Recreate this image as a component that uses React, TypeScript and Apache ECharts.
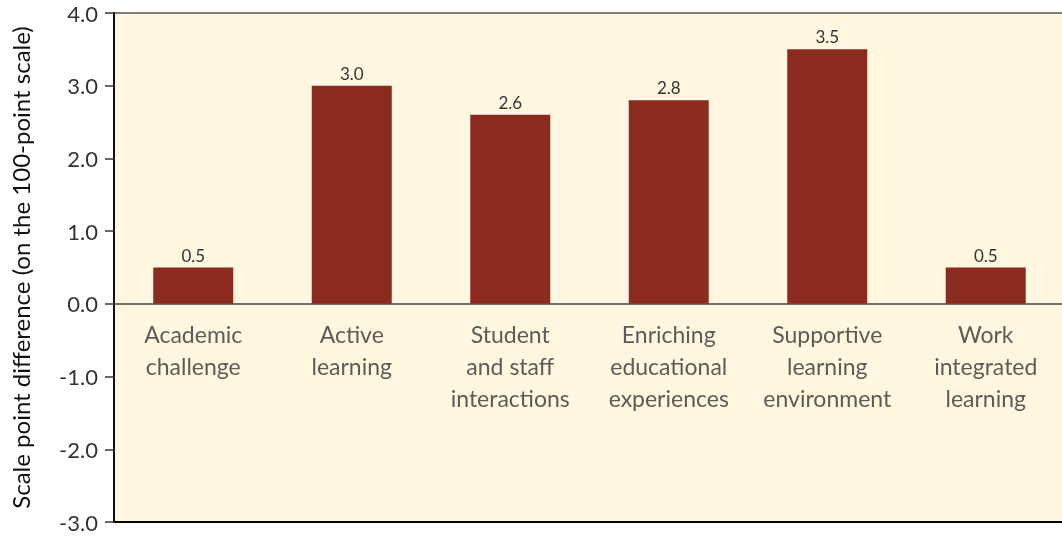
import React, { useEffect, useRef } from "react";
import * as echarts from "echarts";

const categories = [
  "Academic\nchallenge",
  "Active\nlearning",
  "Student\nand staff\ninteractions",
  "Enriching\neducational\nexperiences",
  "Supportive\nlearning\nenvironment",
  "Work\nintegrated\nlearning",
];
const values = [0.5, 3.0, 2.6, 2.8, 3.5, 0.5];
const yTicks = { min: -3, max: 4, interval: 1 };
const yTitle = "Scale point difference (on the 100-point scale)";

const FONT = "Lato, 'Open Sans', sans-serif";
const TXT = "#333333";

export default function App() {
  const ref = useRef<HTMLDivElement>(null);
  useEffect(() => {
    if (!ref.current) return;
    const chart = echarts.init(ref.current, undefined, { renderer: "svg" });
    chart.setOption({
      animation: false,
      textStyle: { fontFamily: FONT },
      grid: {
        left: 114,
        right: -3,
        top: 13,
        bottom: 18,
        containLabel: false,
        outerBoundsMode: "none",
        show: true,
        backgroundColor: "#FFF7E0",
        borderColor: "#555555",
        borderWidth: 1.5,
      },
      xAxis: {
        type: "category",
        data: categories,
        axisLine: { onZero: true, lineStyle: { color: "#444444", width: 1.5 } },
        axisTick: { show: false },
        axisLabel: { show: false },
      },
      yAxis: {
        type: "value",
        min: yTicks.min,
        max: yTicks.max,
        interval: yTicks.interval,
        name: yTitle,
        nameLocation: "middle",
        nameGap: 82,
        nameTextStyle: { color: "#111111", fontSize: 24, fontFamily: FONT },
        axisLine: { show: true, lineStyle: { color: "#111111", width: 2 } },
        axisTick: { show: true, length: 9, lineStyle: { color: "#333333", width: 1.5 } },
        splitLine: { show: false },
        axisLabel: {
          color: TXT,
          fontSize: 22,
          margin: 16,
          fontFamily: FONT,
          formatter: (v: number) => v.toFixed(1),
        },
      },
      series: [
        {
          type: "bar",
          data: values,
          barWidth: 80,
          itemStyle: { color: "#8B2A1E" },
          label: {
            show: true,
            position: "top",
            distance: 4,
            color: TXT,
            fontSize: 17,
            fontFamily: FONT,
            formatter: (p: any) => Number(p.value).toFixed(1),
          },
          markLine: {
            silent: true,
            symbol: "none",
            label: { show: false },
            lineStyle: { color: "#000000", width: 2, type: "solid" },
            data: [{ yAxis: yTicks.min }],
          },
        },
        {
          type: "scatter",
          silent: true,
          symbolSize: 1,
          itemStyle: { color: "rgba(0,0,0,0)" },
          data: categories.map((c) => [c, 0]),
          label: {
            show: true,
            position: "bottom",
            distance: 14,
            color: TXT,
            fontSize: 23,
            lineHeight: 32,
            fontFamily: FONT,
            align: "center",
            formatter: (p: any) => p.name || p.value[0],
          },
        },
      ],
    });
    return () => chart.dispose();
  }, []);
  return (
    <div
      ref={ref}
      style={{ position: "fixed", left: 0, top: 0, width: 1062, height: 540 }}
    />
  );
}
